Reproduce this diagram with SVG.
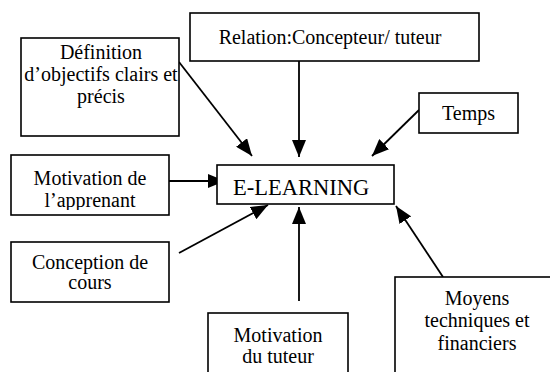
<svg xmlns="http://www.w3.org/2000/svg" width="550" height="372" viewBox="0 0 550 372">
<defs>
<style>
.box{fill:#fff;stroke:#000;stroke-width:1.6}
.c{stroke:#000;stroke-width:1.8;fill:none;marker-end:url(#ah)}
</style>
<marker id="ah" markerUnits="userSpaceOnUse" markerWidth="18" markerHeight="14" refX="17" refY="7" orient="auto">
<path d="M0,0 L17,7 L0,14 Z" fill="#000"/>
</marker>
<clipPath id="clipApp"><rect x="11" y="155" width="158" height="55"/></clipPath>
</defs>
<rect width="550" height="372" fill="#fff"/>
<g id="connectors">
<line class="c" x1="179" y1="62" x2="252" y2="156"/>
<line class="c" x1="299" y1="61" x2="299" y2="157"/>
<line class="c" x1="419" y1="110" x2="372" y2="156"/>
<line class="c" x1="169" y1="181" x2="225" y2="181"/>
<line class="c" x1="179" y1="253" x2="268" y2="205"/>
<line class="c" x1="299" y1="301" x2="299" y2="207"/>
<line class="c" x1="443" y1="277" x2="396" y2="206"/>
</g>
<g font-family="Liberation Serif, Times New Roman, serif" fill="#000">
<g id="elearning">
<rect class="box" x="217" y="165" width="177" height="39"/>
<text x="233" y="195" font-size="22.5">E-LEARNING</text>
</g>
<g id="definition" font-size="20" text-anchor="middle">
<rect class="box" x="21" y="38" width="158" height="98"/>
<text x="101" y="59">Définition</text>
<text x="101" y="81">d’objectifs clairs et</text>
<text x="101" y="103">précis</text>
</g>
<g id="relation" font-size="20" text-anchor="middle">
<rect class="box" x="190" y="13" width="289" height="48"/>
<text x="330" y="44">Relation:Concepteur/ tuteur</text>
</g>
<g id="temps" font-size="20" text-anchor="middle">
<rect class="box" x="419" y="93" width="99" height="40"/>
<text x="468.5" y="120">Temps</text>
</g>
<g id="motivation-apprenant" font-size="20" text-anchor="middle">
<rect class="box" x="11" y="155" width="158" height="60"/>
<g clip-path="url(#clipApp)">
<text x="90" y="185">Motivation de</text>
<text x="90" y="207">l’apprenant</text>
</g>
</g>
<g id="conception" font-size="20" text-anchor="middle">
<rect class="box" x="11" y="242" width="158" height="60"/>
<text x="90" y="269">Conception de</text>
<text x="90" y="289">cours</text>
</g>
<g id="motivation-tuteur" font-size="20" text-anchor="middle">
<rect class="box" x="208" y="313" width="140" height="70"/>
<text x="278" y="342">Motivation</text>
<text x="278" y="363">du tuteur</text>
</g>
<g id="moyens" font-size="20" text-anchor="middle">
<rect class="box" x="395" y="277" width="170" height="110"/>
<text x="477" y="305">Moyens</text>
<text x="477" y="327">techniques et</text>
<text x="477" y="350">financiers</text>
</g>
</g>
</svg>
